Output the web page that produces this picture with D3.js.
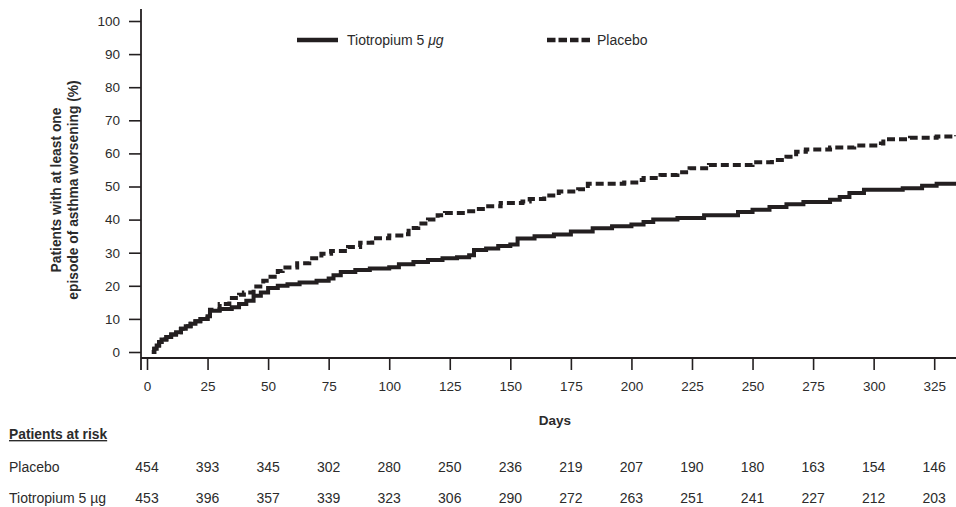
<!DOCTYPE html>
<html>
<head>
<meta charset="utf-8">
<script src="https://cdn.jsdelivr.net/npm/d3@7"></script>
<style>
  body { margin: 0; background: #fff; }
  text { font-family: "Liberation Sans", Arial, sans-serif; fill: #2b2b2b; }
</style>
</head>
<body>
<svg id="chart" width="956" height="507"></svg>
<script>
// ---- Data ----
const xTicks = [0, 25, 50, 75, 100, 125, 150, 175, 200, 225, 250, 275, 300, 325];
const yTicks = [0, 10, 20, 30, 40, 50, 60, 70, 80, 90, 100];
const seriesNames = ["Tiotropium 5 \u00b5g", "Placebo"];
const atRiskPlacebo = [454, 393, 345, 302, 280, 250, 236, 219, 207, 190, 180, 163, 154, 146];
const atRiskTiotropium = [453, 396, 357, 339, 323, 306, 290, 272, 263, 251, 241, 227, 212, 203];

// [day, cumulative % with at least one episode]
const tiotropium = [
  [2,0],[3,1],[4,2],[5,3],[6,3.8],[8,4.5],[10,5.3],[12,6],[14,7],[16,7.8],[18,8.5],[20,9.3],[22,10],
  [25,10.8],[26,12.5],[30,13],[35,13.5],[38,14.5],[41,15.5],[44,17],[47,18],[50,19.3],[54,20],[58,20.5],
  [63,21],[70,21.5],[75,22.2],[77,23.2],[80,24.2],[86,24.8],[92,25.2],[100,25.6],[104,26.5],[110,27.2],
  [116,27.8],[122,28.3],[128,28.6],[133,29.2],[135,30.8],[140,31.3],[145,32],[150,32.5],[153,34.3],
  [160,35],[168,35.5],[175,36.4],[184,37.4],[192,38],[200,38.5],[205,39.3],[209,40],[219,40.5],
  [230,41.3],[244,42.3],[250,43],[257,43.8],[264,44.6],[271,45.3],[282,46],[286,46.8],[290,48],
  [296,49],[312,49.5],[320,50.2],[326,50.8],[334,51.2]
];
const placebo = [
  [2,0],[3,1],[4,2],[5,3],[6,3.8],[8,4.5],[10,5.3],[12,6],[14,7],[16,7.8],[18,8.5],[20,9.3],[22,10],
  [25,11],[26,12.8],[30,14.5],[34,16.3],[38,17.3],[40,18],[44,19.8],[48,21.5],[51,22.7],[54,24.5],
  [56,25.5],[62,26.8],[67,28.3],[72,29.7],[76,30.5],[83,31.7],[88,33],[93,34.4],[100,35.2],[106,35.6],
  [108,37.5],[112,38.8],[116,40],[120,41.3],[123,42],[132,42.5],[136,43.2],[140,44],[146,45],[155,45.5],
  [158,46.2],[164,47.3],[170,48.5],[178,49.2],[182,50.8],[197,51.2],[202,52],[205,52.6],[212,53.5],
  [219,54.3],[224,55.5],[232,56.5],[250,57.3],[258,58],[264,59],[268,60.5],[272,61.2],[282,61.8],
  [292,62.4],[303,63],[304,64.3],[315,64.7],[326,65.1],[334,65.5]
];

// ---- Layout ----
const svg = d3.select("#chart");
const ink = "#231f20";
const x = d3.scaleLinear().domain([0, 334]).range([147, 956]);
const y = d3.scaleLinear().domain([0, 100]).range([352, 21]);
const yAxisX = 141, xAxisY = 358;

// Y axis
const gy = svg.append("g").attr("transform", `translate(${yAxisX},0)`)
  .call(d3.axisLeft(y).tickValues(yTicks).tickSize(12).tickPadding(9).tickSizeOuter(0));
gy.select(".domain").remove();
gy.selectAll(".tick line").attr("stroke", ink).attr("stroke-width", 1.6);
gy.selectAll(".tick text").style("font-size", "13.5px").attr("fill", "#2b2b2b");
svg.append("line").attr("x1", yAxisX).attr("x2", yAxisX).attr("y1", 9).attr("y2", 370)
  .attr("stroke", ink).attr("stroke-width", 1.8);

// X axis
const gx = svg.append("g").attr("transform", `translate(0,${xAxisY})`)
  .call(d3.axisBottom(x).tickValues(xTicks).tickSize(12).tickPadding(11).tickSizeOuter(0));
gx.select(".domain").remove();
gx.selectAll(".tick line").attr("stroke", ink).attr("stroke-width", 1.6);
gx.selectAll(".tick text").style("font-size", "13.5px").attr("fill", "#2b2b2b");
svg.append("line").attr("x1", yAxisX).attr("x2", 956).attr("y1", xAxisY).attr("y2", xAxisY)
  .attr("stroke", ink).attr("stroke-width", 1.8);

// Axis titles
const yl = svg.append("text").attr("transform", "translate(56,190) rotate(-90)")
  .attr("text-anchor", "middle").style("font-size", "13.8px").style("font-weight", "bold");
yl.append("tspan").attr("x", 0).attr("dy", "0.35em").text("Patients with at least one");
yl.append("tspan").attr("x", 0).attr("dy", "1.25em").text("episode of asthma worsening (%)");

svg.append("text").attr("x", 555).attr("y", 425).attr("text-anchor", "middle")
  .style("font-size", "13.5px").style("font-weight", "bold").text("Days");

// Curves
const line = d3.line().x(d => x(d[0])).y(d => y(d[1])).curve(d3.curveStepAfter);
svg.append("path").datum(placebo).attr("d", line).attr("fill", "none")
  .attr("stroke", ink).attr("stroke-width", 4).attr("stroke-dasharray", "8,4");
svg.append("path").datum(tiotropium).attr("d", line).attr("fill", "none")
  .attr("stroke", ink).attr("stroke-width", 4);

// Legend
svg.append("line").attr("x1", 297).attr("x2", 338).attr("y1", 40).attr("y2", 40)
  .attr("stroke", ink).attr("stroke-width", 4.5);
const lt = svg.append("text").attr("x", 347).attr("y", 45).style("font-size", "14px");
lt.append("tspan").text("Tiotropium 5 ");
lt.append("tspan").style("font-style", "italic").text("\u03bcg");
svg.append("line").attr("x1", 547).attr("x2", 590).attr("y1", 40).attr("y2", 40)
  .attr("stroke", ink).attr("stroke-width", 4.5).attr("stroke-dasharray", "8.5,3");
svg.append("text").attr("x", 597).attr("y", 45).style("font-size", "14px").text(seriesNames[1]);

// Patients at risk table
svg.append("text").attr("x", 9).attr("y", 439).style("font-size", "13.8px")
  .style("font-weight", "bold").style("text-decoration", "underline").text("Patients at risk");

const rows = [
  { label: seriesNames[1], values: atRiskPlacebo, y: 472 },
  { label: seriesNames[0], values: atRiskTiotropium, y: 503 }
];
rows.forEach(r => {
  svg.append("text").attr("x", 9).attr("y", r.y).style("font-size", "14px").text(r.label);
  svg.selectAll(null).data(r.values).enter().append("text")
    .attr("x", (d, i) => x(xTicks[i])).attr("y", r.y)
    .attr("text-anchor", "middle").style("font-size", "14px").text(d => d);
});
</script>
</body>
</html>
